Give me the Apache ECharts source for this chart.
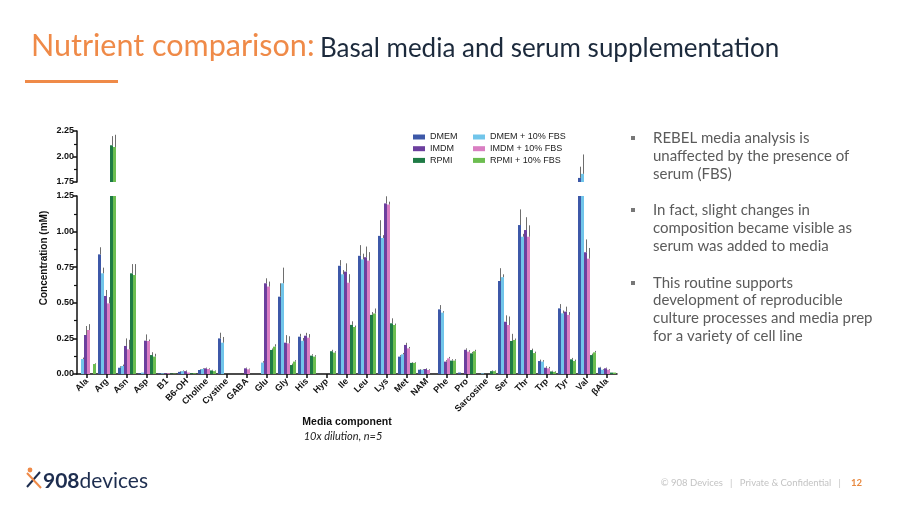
<!DOCTYPE html>
<html>
<head>
<meta charset="utf-8">
<script src="https://cdn.jsdelivr.net/npm/echarts@6/dist/echarts.min.js"></script>
<style>
html,body{margin:0;padding:0;background:#fff;}
#c{width:900px;height:506px;}
</style>
</head>
<body>
<div id="c"></div>
<script>
// ---------- data ----------
const categories = ['Ala','Arg','Asn','Asp','B1','B6-OH','Choline','Cystine','GABA','Glu','Gly','His','Hyp','Ile','Leu','Lys','Met','NAM','Phe','Pro','Sarcosine','Ser','Thr','Trp','Tyr','Val','βAla'];
const seriesNames = ['DMEM','DMEM + 10% FBS','IMDM','IMDM + 10% FBS','RPMI','RPMI + 10% FBS'];
const DMEM      = [0,0.84,0.044,0.005,0.005,0.015,0.028,0.25,0,0,0.543,0.262,0,0.76,0.83,0.97,0.122,0.03,0.454,0.01,0,0.653,1.046,0.091,0.461,1.79,0.045];
const DMEM_FBS  = [0.105,0.707,0.056,0.01,0.005,0.02,0.035,0.22,0,0.08,0.637,0.233,0,0.70,0.805,0.955,0.138,0.03,0.431,0,0.005,0.68,0.964,0.087,0.426,1.83,0.03];
const IMDM      = [0.274,0.548,0.197,0.234,0.005,0.02,0.04,0,0.04,0.637,0.22,0.269,0,0.719,0.82,1.198,0.204,0.035,0.087,0.17,0,0.367,1.011,0.044,0.438,0.855,0.04];
const IMDM_FBS  = [0.309,0.496,0.173,0.232,0.005,0.01,0.035,0,0.033,0.614,0.215,0.255,0,0.641,0.796,1.19,0.18,0.028,0.11,0.157,0,0.344,0.964,0.04,0.415,0.81,0.03];
const RPMI      = [0,2.11,0.707,0.133,0.003,0.005,0.025,0,0,0.169,0.063,0.129,0.16,0.345,0.415,0.356,0.078,0,0.094,0.145,0.02,0.232,0.168,0.018,0.103,0.133,0.01];
const RPMI_FBS  = [0.07,2.093,0.695,0.122,0.003,0.005,0.02,0,0,0.192,0.087,0.122,0.15,0.33,0.425,0.344,0.078,0,0.094,0.16,0.02,0.239,0.147,0.015,0.091,0.152,0.01];
// error (SD) upward
const DMEM_err     = [0,0.05,0.01,0,0,0.005,0.005,0.04,0,0,0.094,0.02,0,0.04,0.075,0.11,0.01,0.005,0.03,0,0,0.09,0.11,0.01,0.03,0.11,0.005];
const DMEM_FBS_err = [0.01,0.04,0.01,0,0,0.005,0.005,0.04,0,0.01,0.11,0.02,0,0.03,0.04,0.02,0.01,0.005,0.01,0,0,0.02,0.02,0.01,0.02,0.19,0.005];
const IMDM_err     = [0.063,0.042,0.053,0.044,0,0.005,0.005,0,0.005,0.035,0.053,0.02,0,0.058,0.075,0.05,0.015,0.005,0.01,0.01,0,0.045,0.09,0.01,0.035,0.09,0.005];
const IMDM_FBS_err = [0.041,0.044,0.067,0.01,0,0,0.005,0,0.005,0.035,0.05,0.025,0,0.06,0.06,0.02,0.01,0.005,0.01,0.01,0,0.06,0.08,0.01,0.02,0.075,0.005];
const RPMI_err     = [0,0.09,0.065,0.02,0,0,0.005,0,0,0.01,0.01,0.01,0.01,0.025,0.02,0.035,0.005,0,0.01,0.01,0.005,0.05,0.01,0.005,0.01,0.01,0];
const RPMI_FBS_err = [0.005,0.12,0.077,0.02,0,0,0.005,0,0,0.017,0.01,0.01,0.01,0.01,0.035,0.01,0.005,0,0.01,0.01,0.005,0.01,0.01,0.005,0.01,0.01,0];
const yTicksTop = [1.75, 2.25];      // top segment range
const yTicksBottom = [0, 1.25];      // bottom segment range

const values = [DMEM, DMEM_FBS, IMDM, IMDM_FBS, RPMI, RPMI_FBS];
const errors = [DMEM_err, DMEM_FBS_err, IMDM_err, IMDM_FBS_err, RPMI_err, RPMI_FBS_err];
const colors = ['#3d58a8','#71c5ea','#6c3f9e','#d97ec2','#1e7a45','#6cbd50'];

const AF = 'Liberation Sans';
const LF = 'Lato';
const catGap = 0.1;

function errRender(si, range) {
  return function (params, api) {
    const ci = api.value(0), v = api.value(1), e = api.value(2);
    if (!(e > 0)) return;
    let lo = Math.max(v, range[0]), hi = Math.min(v + e, range[1]);
    if (hi <= lo) return;
    const cx = api.coord([ci, 0])[0];
    const band = api.size([1, 0])[0];
    const bw = band * (1 - catGap) / 6;
    const x = Math.round(cx - band * (1 - catGap) / 2 + bw * (si + 0.7)) + 0.5;
    const y1 = api.coord([ci, lo])[1], y2 = api.coord([ci, hi])[1];
    return { type: 'line', shape: { x1: x, y1: y1, x2: x, y2: y2 }, style: { stroke: '#6e6e6e', lineWidth: 1 } };
  };
}

const series = [];
values.forEach((arr, si) => {
  series.push({ name: seriesNames[si], type: 'bar', xAxisIndex: 1, yAxisIndex: 1, data: arr, barGap: '0%', barCategoryGap: (catGap*100)+'%', itemStyle: { color: colors[si] }, clip: true, silent: true });
  series.push({ name: seriesNames[si], type: 'bar', xAxisIndex: 0, yAxisIndex: 0, data: arr.map(v => v > yTicksTop[0] ? v : '-'), barGap: '0%', barCategoryGap: (catGap*100)+'%', itemStyle: { color: colors[si] }, clip: true, silent: true });
});
values.forEach((arr, si) => {
  const d = arr.map((v, i) => [i, v, errors[si][i]]);
  series.push({ name: seriesNames[si], type: 'custom', xAxisIndex: 1, yAxisIndex: 1, data: d, renderItem: errRender(si, yTicksBottom), encode: { x: 0, y: 1 }, silent: true, z: 3 });
  series.push({ name: seriesNames[si], type: 'custom', xAxisIndex: 0, yAxisIndex: 0, data: d, renderItem: errRender(si, yTicksTop), encode: { x: 0, y: 1 }, silent: true, z: 3 });
});

const axisLine = { show: true, lineStyle: { color: '#111', width: 1.5 } };
const yLabel = { fontFamily: AF, fontWeight: 'bold', fontSize: 9, color: '#111', margin: 3, formatter: v => v.toFixed(2) };

const bulletLines = [
  [138, 'REBEL media analysis is', true],
  [156, 'unaffected by the presence of'],
  [174, 'serum (FBS)'],
  [210, 'In fact, slight changes in', true],
  [228, 'composition became visible as'],
  [246, 'serum was added to media'],
  [283, 'This routine supports', true],
  [300, 'development of reproducible'],
  [318, 'culture processes and media prep'],
  [336, 'for a variety of cell line']
];
const graphics = [
  { type: 'text', left: 31, top: 31, style: { text: 'Nutrient comparison:', fontFamily: LF, fontSize: 30.5, fill: '#ef8a48' } },
  { type: 'text', left: 320, top: 36, style: { text: 'Basal media and serum supplementation', fontFamily: LF, fontSize: 26, fill: '#1c2a3c' } },
  { type: 'rect', shape: { x: 25, y: 80, width: 93, height: 3 }, style: { fill: '#ef8a48' } },
  { type: 'text', x: 44, y: 258, rotation: Math.PI/2, style: { text: 'Concentration (mM)', fontFamily: AF, fontWeight: 'bold', fontSize: 10, fill: '#111', align: 'center', verticalAlign: 'middle' } },
  { type: 'text', x: 343, y: 436, style: { text: '10x dilution, n=5', fontFamily: LF, fontStyle: 'italic', fontSize: 11, fill: '#222', align: 'center', verticalAlign: 'middle' } },
  // footer
  { type: 'text', x: 862, y: 483, style: { text: '{a|© 908 Devices   |   Private & Confidential   |}   {b|12}', align: 'right', verticalAlign: 'middle', rich: { a: { fontFamily: LF, fontSize: 9.5, fill: '#c3c3c3' }, b: { fontFamily: LF, fontSize: 9.5, fontWeight: 'bold', fill: '#e8893f' } } } },
  // logo
  { type: 'line', shape: { x1: 27, y1: 487, x2: 40, y2: 472 }, style: { stroke: '#1d2d4f', lineWidth: 2 } },
  { type: 'line', shape: { x1: 27, y1: 473, x2: 41, y2: 488 }, style: { stroke: '#ef8a48', lineWidth: 2 } },
  { type: 'circle', shape: { cx: 30, cy: 470, r: 2.4 }, style: { fill: '#ef8a48' } },
  { type: 'text', x: 43, y: 481, style: { text: '{a|908}{b|devices}', verticalAlign: 'middle', rich: { a: { fontFamily: LF, fontWeight: 'bold', fontSize: 21, fill: '#1d2d4f' }, b: { fontFamily: LF, fontSize: 21, fill: '#1d2d4f' } } } }
];
bulletLines.forEach(b => {
  graphics.push({ type: 'text', x: 653, y: b[0], style: { text: b[1], fontFamily: LF, fontSize: 15, fill: '#5b5b5b', verticalAlign: 'middle' } });
  if (b[2]) graphics.push({ type: 'rect', shape: { x: 631, y: b[0] - 2, width: 4, height: 4 }, style: { fill: '#777' } });
});

const chart = echarts.init(document.getElementById('c'), null, { renderer: 'canvas' });
chart.setOption({
  animation: false,
  backgroundColor: '#fff',
  grid: [
    { left: 77, width: 540, top: 131, height: 51 },
    { left: 77, width: 540, top: 196, height: 178 }
  ],
  legend: [
    { data: ['DMEM','IMDM','RPMI'], left: 408, top: 127, orient: 'vertical', icon: 'rect', itemWidth: 12, itemHeight: 5, itemGap: 1.7, textStyle: { fontFamily: AF, fontSize: 9, color: '#222', lineHeight: 10 }, selectedMode: false },
    { data: ['DMEM + 10% FBS','IMDM + 10% FBS','RPMI + 10% FBS'], left: 468, top: 127, orient: 'vertical', icon: 'rect', itemWidth: 12, itemHeight: 5, itemGap: 1.7, textStyle: { fontFamily: AF, fontSize: 9, color: '#222', lineHeight: 10 }, selectedMode: false }
  ],
  xAxis: [
    { type: 'category', gridIndex: 0, data: categories, show: false },
    { type: 'category', gridIndex: 1, data: categories, axisLine: axisLine,
      axisTick: { show: true, alignWithLabel: true, length: 4, lineStyle: { color: '#111', width: 1.5 } },
      axisLabel: { interval: 0, rotate: 45, fontFamily: AF, fontWeight: 'bold', fontSize: 9, color: '#111', margin: 6 },
      name: 'Media component', nameLocation: 'middle', nameGap: 41,
      nameTextStyle: { fontFamily: AF, fontWeight: 'bold', fontSize: 10.5, color: '#111' } }
  ],
  yAxis: [
    { type: 'value', gridIndex: 0, min: yTicksTop[0], max: yTicksTop[1], interval: 0.25, axisLine: axisLine,
      axisTick: { show: true, length: 4, lineStyle: { color: '#111', width: 1.5 } },
      minorTick: { show: true, splitNumber: 2, length: 3, lineStyle: { color: '#111', width: 1.2 } },
      splitLine: { show: false }, axisLabel: yLabel },
    { type: 'value', gridIndex: 1, min: yTicksBottom[0], max: yTicksBottom[1], interval: 0.25, axisLine: axisLine,
      axisTick: { show: true, length: 4, lineStyle: { color: '#111', width: 1.5 } },
      minorTick: { show: true, splitNumber: 2, length: 3, lineStyle: { color: '#111', width: 1.2 } },
      splitLine: { show: false }, axisLabel: yLabel }
  ],
  series: series,
  graphic: graphics
});
</script>
</body>
</html>
